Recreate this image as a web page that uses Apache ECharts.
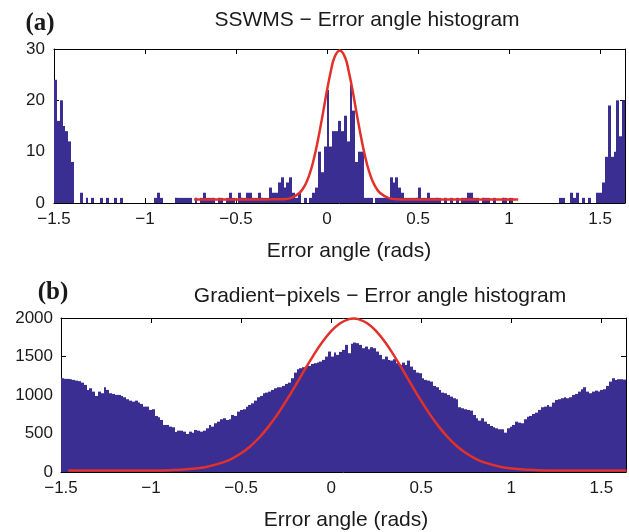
<!DOCTYPE html>
<html>
<head>
<meta charset="utf-8">
<script src="https://cdn.jsdelivr.net/npm/echarts@6/dist/echarts.min.js"></script>
<style>
  html, body { margin: 0; padding: 0; background: #fff; }
  #chart { width: 629px; height: 532px; }
</style>
</head>
<body>
<div id="chart"></div>
<script>
// histogram bins: 199 bins starting at -1.5
const BIN_START = -1.5;
const BIN_WIDTH = 0.015764;
const X_MAX = 1.637;

const xTickValues = [-1.5, -1, -0.5, 0, 0.5, 1, 1.5];
const xTickLabels = ['\u22121.5', '\u22121', '\u22120.5', '0', '0.5', '1', '1.5'];

// (a) SSWMS error angle counts
const sswmsCounts = [
  24, 16, 20, 15, 14, 12, 8, 0, 0, 2,
  0, 1, 0, 1, 0, 0, 1, 0, 1, 0,
  0, 1, 0, 1, 0, 0, 0, 0, 0, 0,
  0, 0, 0, 0, 0, 1, 2, 1, 0, 0,
  0, 0, 1, 1, 1, 1, 1, 1, 0, 1,
  0, 1, 2, 1, 1, 1, 0, 1, 1, 0,
  1, 2, 1, 0, 2, 1, 1, 2, 2, 1,
  1, 2, 1, 1, 1, 3, 2, 2, 4, 5,
  3, 4, 5, 2, 1, 2, 0, 1, 0, 1,
  2, 3, 10, 6, 11, 22, 11, 14, 14, 16,
  14, 17, 12, 23, 18, 8, 10, 10, 1, 1,
  1, 0, 1, 1, 1, 1, 1, 5, 4, 5,
  3, 2, 1, 1, 1, 1, 1, 3, 1, 1,
  2, 1, 1, 1, 1, 0, 1, 0, 1, 0,
  1, 0, 1, 1, 2, 2, 1, 1, 0, 1,
  1, 1, 0, 1, 0, 0, 1, 1, 0, 1,
  0, 0, 0, 0, 0, 0, 0, 0, 0, 0,
  0, 0, 0, 0, 0, 0, 1, 1, 0, 0,
  2, 1, 2, 0, 1, 0, 1, 0, 0, 2,
  2, 4, 9, 19, 9, 10, 20, 13, 20
];

// (a) fitted curve
const sswmsFitX = [-0.73, -0.4, -0.3, -0.25, -0.2, -0.15, -0.12, -0.1, -0.08, -0.06, -0.04, -0.02, 0, 0.02, 0.04, 0.07,
  0.1, 0.12, 0.14, 0.16, 0.18, 0.2, 0.22, 0.24, 0.26, 0.29, 0.34, 0.39, 0.45, 0.7, 1.05];
const sswmsFitY = [0.7, 0.7, 0.71, 0.74, 0.96, 1.99, 3.54, 5.2, 7.5, 10.5, 14.1, 18.0, 22.0, 25.5, 28.3, 29.7,
  28.3, 25.5, 22.0, 18.0, 14.1, 10.5, 7.5, 5.2, 3.54, 1.99, 0.96, 0.74, 0.7, 0.7, 0.7];

// (b) gradient-pixels error angle counts
const gradCounts = [
  1218, 1210, 1209, 1205, 1196, 1187, 1180, 1161, 1131, 1066,
  1088, 1044, 988, 1044, 1023, 1101, 1066, 1023, 1014, 1001,
  1001, 988, 971, 945, 927, 914, 927, 901, 884, 849,
  849, 806, 815, 728, 711, 676, 611, 611, 589, 581,
  520, 537, 537, 524, 494, 524, 511, 546, 537, 524,
  537, 568, 611, 589, 633, 654, 685, 698, 676, 685,
  741, 728, 784, 806, 815, 849, 871, 892, 927, 971,
  988, 1023, 1031, 1044, 1066, 1088, 1101, 1101, 1118, 1144,
  1161, 1218, 1291, 1335, 1348, 1361, 1369, 1378, 1404, 1413,
  1421, 1434, 1456, 1499, 1564, 1499, 1551, 1521, 1560, 1586,
  1651, 1543, 1664, 1681, 1673, 1651, 1608, 1629, 1595, 1621,
  1608, 1564, 1521, 1465, 1499, 1456, 1447, 1465, 1413, 1391,
  1421, 1391, 1447, 1369, 1326, 1291, 1283, 1218, 1196, 1187,
  1174, 1118, 1101, 1066, 1031, 1023, 1001, 979, 958, 945,
  841, 828, 815, 806, 797, 741, 698, 667, 698, 654,
  624, 598, 581, 568, 555, 555, 511, 568, 589, 611,
  654, 641, 633, 685, 719, 728, 754, 771, 806, 841,
  849, 871, 849, 901, 936, 945, 958, 971, 958, 971,
  1001, 1014, 1044, 1075, 1101, 1044, 1023, 1044, 1057, 1044,
  1066, 1075, 1118, 1174, 1218, 1196, 1205, 1205, 1200
];

// (b) fitted curve
const gradFitX = [-1.46, -1.2, -1.0, -0.9, -0.8, -0.7, -0.6, -0.55, -0.5, -0.45,
  -0.4, -0.35, -0.3, -0.25, -0.2, -0.15, -0.1, -0.05, 0, 0.05,
  0.1, 0.125, 0.15, 0.2, 0.25, 0.3, 0.35, 0.4, 0.45, 0.5,
  0.55, 0.6, 0.65, 0.7, 0.75, 0.8, 0.85, 0.95, 1.05, 1.15,
  1.25, 1.45, 1.64];
const gradFitY = [18, 18, 20, 24, 35, 63, 125, 175, 243, 332,
  445, 583, 742, 923, 1116, 1316, 1509, 1685, 1829, 1932,
  1986, 1993, 1986, 1932, 1829, 1685, 1509, 1316, 1116, 923,
  742, 583, 445, 332, 243, 175, 125, 63, 35, 24,
  20, 18, 18];

const BAR_COLOR = '#3a2e92';
const FIT_COLOR = '#e2312a';
const TEXT_COLOR = '#1a1a1a';
const SANS = '"Liberation Sans", Arial, sans-serif';

const chart = echarts.init(document.getElementById('chart'));

function binData(counts) {
  return counts.map((c, k) => [BIN_START + k * BIN_WIDTH, BIN_START + (k + 1) * BIN_WIDTH, c]);
}

// snap bin edges to whole pixels so neighbouring bins leave no seams
function renderBin(params, api) {
  const h = api.value(2);
  if (!(h > 0)) return null;
  const p0 = api.coord([api.value(0), h]);
  const p1 = api.coord([api.value(1), 0]);
  const x0 = Math.round(p0[0]);
  const x1 = Math.round(p1[0]);
  return {
    type: 'rect',
    shape: { x: x0, y: p0[1], width: Math.max(1, x1 - x0), height: p1[1] - p0[1] },
    style: { fill: BAR_COLOR }
  };
}

function xLabel(v) {
  const i = xTickValues.findIndex(t => Math.abs(t - v) < 1e-6);
  return i < 0 ? '' : xTickLabels[i];
}

const axisLine = { show: true, onZero: false, lineStyle: { color: '#000', width: 1 } };
const axisTick = { show: true, inside: true, length: 5, lineStyle: { color: '#000', width: 1 } };

function xAxes(gridIndex) {
  const base = {
    gridIndex, type: 'value', min: -1.5, max: X_MAX, interval: 0.5,
    axisLine, axisTick, splitLine: { show: false }
  };
  return [
    Object.assign({}, base, {
      position: 'bottom',
      axisLabel: { formatter: xLabel, fontSize: 17, color: TEXT_COLOR, fontFamily: SANS, margin: 8 }
    }),
    Object.assign({}, base, { position: 'top', axisLabel: { show: false } })
  ];
}

function yAxes(gridIndex, max, interval, margin) {
  const base = {
    gridIndex, type: 'value', min: 0, max, interval,
    axisLine, axisTick, splitLine: { show: false }
  };
  return [
    Object.assign({}, base, {
      position: 'left',
      axisLabel: { formatter: v => String(v), fontSize: 17, color: TEXT_COLOR, fontFamily: SANS, margin }
    }),
    Object.assign({}, base, { position: 'right', axisLabel: { show: false } })
  ];
}

function label(x, y, text, font) {
  return {
    type: 'text', x, y,
    style: {
      text, font, fill: TEXT_COLOR,
      textAlign: 'center', align: 'center',
      textVerticalAlign: 'middle', verticalAlign: 'middle'
    }
  };
}

chart.setOption({
  animation: false,
  backgroundColor: '#fff',
  grid: [
    { left: 54, top: 49, width: 571, height: 154 },
    { left: 61, top: 318, width: 573, height: 154 }
  ],
  xAxis: [...xAxes(0), ...xAxes(1)],
  yAxis: [...yAxes(0, 30, 10, 9), ...yAxes(1, 2000, 500, 8)],
  graphic: [
    label(40, 24, '(a)', 'bold 25px "Liberation Serif", serif'),
    label(367, 20, 'SSWMS \u2212 Error angle histogram', '21px ' + SANS),
    label(349, 251, 'Error angle (rads)', '21px ' + SANS),
    label(53, 293, '(b)', 'bold 25px "Liberation Serif", serif'),
    label(380, 296, 'Gradient\u2212pixels \u2212 Error angle histogram', '21px ' + SANS),
    label(346, 520, 'Error angle (rads)', '21px ' + SANS)
  ],
  series: [
    {
      type: 'custom', xAxisIndex: 0, yAxisIndex: 0,
      renderItem: renderBin, encode: { x: [0, 1], y: 2 },
      data: binData(sswmsCounts), clip: true
    },
    {
      type: 'line', xAxisIndex: 0, yAxisIndex: 0,
      data: sswmsFitX.map((x, i) => [x, sswmsFitY[i]]),
      showSymbol: false, smooth: 0.4,
      lineStyle: { color: FIT_COLOR, width: 2.5 }
    },
    {
      type: 'custom', xAxisIndex: 2, yAxisIndex: 2,
      renderItem: renderBin, encode: { x: [0, 1], y: 2 },
      data: binData(gradCounts), clip: true
    },
    {
      type: 'line', xAxisIndex: 2, yAxisIndex: 2,
      data: gradFitX.map((x, i) => [x, gradFitY[i]]),
      showSymbol: false, smooth: 0.4,
      lineStyle: { color: FIT_COLOR, width: 2.5 }
    }
  ]
});
</script>
</body>
</html>
